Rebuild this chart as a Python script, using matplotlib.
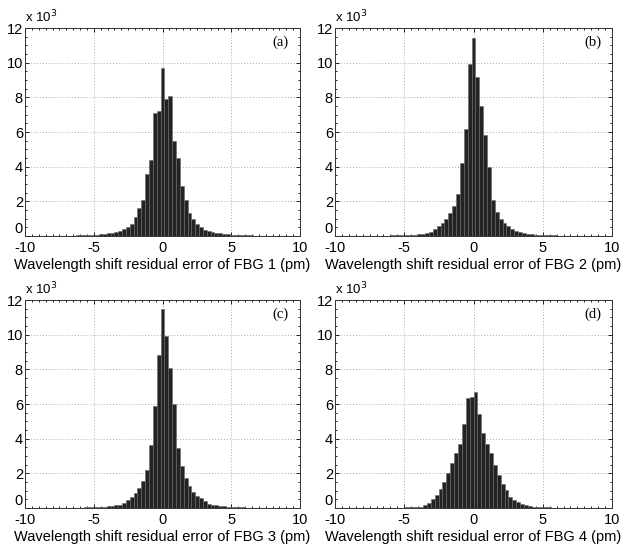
import numpy as np
import matplotlib
matplotlib.use("Agg")
import matplotlib.pyplot as plt
from matplotlib.ticker import MultipleLocator

# ------------------------------------------------------------
# Histogram heights (counts in thousands), bins of ~0.28 pm,
# index -25 .. 25 around the central bin
# ------------------------------------------------------------
BIN_W = 0.28

counts_fbg1 = [0.02, 0.02, 0.02, 0.03, 0.03, 0.04, 0.05, 0.06, 0.08,
               0.10, 0.12, 0.15, 0.20, 0.25, 0.30, 0.40, 0.50, 0.70,
               1.10, 1.60, 2.10, 3.60, 4.40, 7.10, 7.20,
               9.70,
               7.90, 8.10, 5.50, 4.50, 2.90, 2.10, 1.30, 1.00, 0.70,
               0.50, 0.35, 0.30, 0.22, 0.18, 0.15, 0.12, 0.10, 0.08,
               0.06, 0.05, 0.04, 0.03, 0.03, 0.02, 0.02]

counts_fbg2 = [0.02, 0.02, 0.02, 0.02, 0.03, 0.03, 0.04, 0.05, 0.06,
               0.07, 0.08, 0.10, 0.12, 0.16, 0.25, 0.40, 0.55, 0.75,
               1.00, 1.30, 1.75, 2.45, 4.20, 6.15, 9.90,
               11.40,
               9.15, 7.50, 5.80, 4.00, 2.05, 1.40, 1.00, 0.75, 0.55,
               0.40, 0.30, 0.22, 0.16, 0.12, 0.10, 0.08, 0.06, 0.05,
               0.04, 0.03, 0.03, 0.02, 0.02, 0.02, 0.02]

counts_fbg3 = [0.02, 0.02, 0.02, 0.02, 0.02, 0.03, 0.03, 0.04, 0.05,
               0.06, 0.08, 0.10, 0.12, 0.15, 0.20, 0.30, 0.48, 0.63,
               0.85, 1.15, 1.55, 2.20, 3.65, 5.90, 8.85,
               11.50,
               9.90, 8.10, 6.00, 3.45, 2.40, 1.75, 1.25, 0.95, 0.67,
               0.55, 0.40, 0.25, 0.20, 0.16, 0.12, 0.10, 0.08, 0.06,
               0.05, 0.04, 0.03, 0.02, 0.02, 0.02, 0.02]

counts_fbg4 = [0.02, 0.02, 0.02, 0.02, 0.02, 0.02, 0.02, 0.03, 0.03,
               0.04, 0.05, 0.08, 0.15, 0.27, 0.50, 0.75, 1.10, 1.50,
               2.00, 2.60, 3.15, 3.70, 4.85, 6.37, 6.40,
               6.67,
               5.45, 4.30, 3.70, 3.15, 2.50, 1.90, 1.40, 1.05, 0.65,
               0.45, 0.32, 0.22, 0.15, 0.10, 0.07, 0.05, 0.04, 0.03,
               0.03, 0.02, 0.02, 0.02, 0.02, 0.02, 0.02]

# centre of the middle bin for each sensor
mid_centre = [0.0, 0.0, 0.0, 0.14]

panel_tags = ["(a)", "(b)", "(c)", "(d)"]
xlabels = ["Wavelength shift residual error of FBG %d (pm)" % k for k in range(1, 5)]
all_counts = [counts_fbg1, counts_fbg2, counts_fbg3, counts_fbg4]

# axes boxes in figure fraction: left, bottom, width, height
boxes = [
    [25 / 629, 1 - 236 / 550, 275 / 629, 208 / 550],
    [335 / 629, 1 - 236 / 550, 277 / 629, 208 / 550],
    [25 / 629, 1 - 508 / 550, 275 / 629, 208 / 550],
    [335 / 629, 1 - 508 / 550, 277 / 629, 208 / 550],
]

plt.rcParams["font.family"] = ["Liberation Sans", "DejaVu Sans"]
plt.rcParams["axes.unicode_minus"] = False

fig = plt.figure(figsize=(6.29, 5.5), dpi=100)
fig.patch.set_facecolor("white")

for i in range(4):
    ax = fig.add_axes(boxes[i])
    h = np.array(all_counts[i])
    n = len(h)
    centres = mid_centre[i] + BIN_W * (np.arange(n) - n // 2)
    ax.bar(centres, h, width=BIN_W, color="#232323",
           edgecolor="#6a6a6a", linewidth=0.4, zorder=2)

    ax.set_xlim(-10, 10)
    ax.set_ylim(0, 12)
    ax.xaxis.set_major_locator(MultipleLocator(5))
    ax.yaxis.set_major_locator(MultipleLocator(2))
    ax.xaxis.set_minor_locator(MultipleLocator(0.5))
    ax.yaxis.set_minor_locator(MultipleLocator(0.5))
    ax.tick_params(which="both", direction="in", top=True, right=True,
                   labelsize=10.5, width=0.6)
    ax.tick_params(axis="x", pad=3.5)
    ax.tick_params(axis="y", pad=1.5)
    ax.tick_params(which="major", length=3)
    ax.tick_params(which="minor", length=1.5)
    ax.grid(True, which="major", linestyle=(0, (1, 2)), color="#aaaaaa",
            linewidth=0.7, zorder=0)
    ax.set_axisbelow(True)
    for s in ax.spines.values():
        s.set_linewidth(0.7)
        s.set_color("#333333")

    # the "0" on the y axis sits a little above the baseline, as in MATLAB
    fig.canvas.draw()
    for lab in ax.get_yticklabels():
        if lab.get_text() == "0":
            lab.set_verticalalignment("bottom")

    ax.set_xlabel(xlabels[i], fontsize=10.5, labelpad=2)
    ax.text(0.0, 1.015, r"x 10$^3$", transform=ax.transAxes,
            fontsize=9.5, ha="left", va="bottom")
    ax.text(0.93, 0.93, panel_tags[i], transform=ax.transAxes,
            fontsize=10.5, ha="center", va="center",
            family=["Liberation Serif", "DejaVu Serif"])

plt.savefig("out.png", dpi=100)
plt.close()
